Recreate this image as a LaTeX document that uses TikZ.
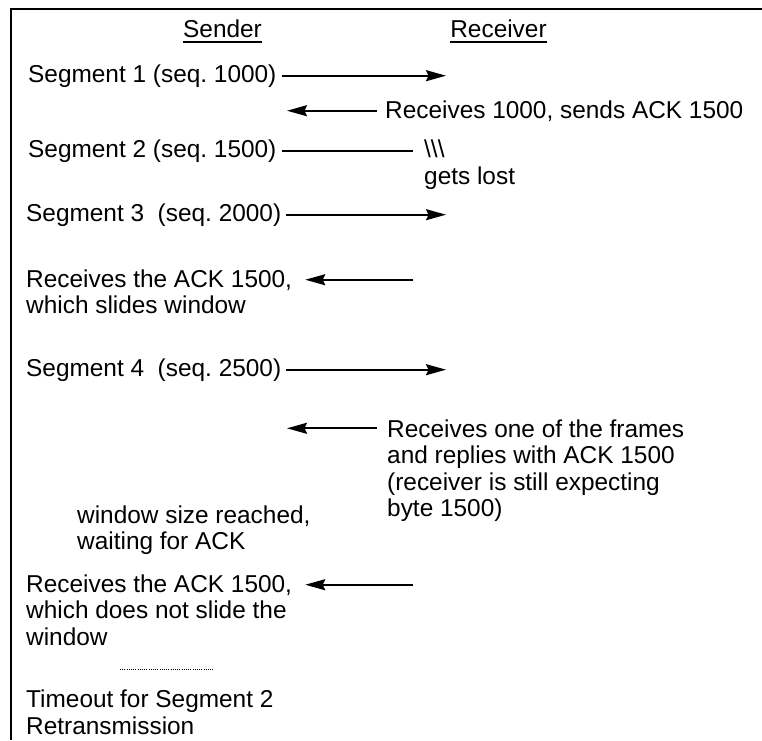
\documentclass[tikz,border=0pt]{standalone}
\usepackage{fontspec}
\setmainfont{Liberation Sans}
\usetikzlibrary{arrows.meta}
\frenchspacing
\begin{document}
\begin{tikzpicture}[x=1pt,y=-1pt,
  lbl/.style={anchor=base west,inner sep=0pt,font=\fontsize{24.4}{26.4}\selectfont\frenchspacing},
  head/.style={anchor=base,inner sep=0pt,font=\fontsize{24.4}{26.4}\selectfont},
  msg/.style={line width=1.8pt,-{Stealth[length=20pt,width=11pt,inset=2.5pt]}},
  plain/.style={line width=1.8pt},
  frame/.style={line width=1.8pt}]
\useasboundingbox (0,0) rectangle (762,740);
% frame
\draw[frame] (11,740) -- (11,9) -- (762,9);
% reference x positions for arrow ends
\coordinate (tipR) at (446,0);
\coordinate (tipL) at (287,0);
\coordinate (srcR) at (413,0);
% headers
\node[head] (snd) at (222.5,37) {Sender};
\node[head] (rcv) at (498.5,37) {Receiver};
\draw[plain] ([yshift=-5pt]snd.base west) -- ([yshift=-5pt]snd.base east);
\draw[plain] ([yshift=-5pt]rcv.base west) -- ([yshift=-5pt]rcv.base east);
% segment 1
\node[lbl] (seg1) at (28,82) {Segment 1 (seq. 1000)};
\draw[msg] ([xshift=5pt]seg1.east) -- (seg1.east -| tipR);
% ack 1
\node[lbl] (ack1) at (385,118) {Receives 1000, sends ACK 1500};
\draw[msg] ([xshift=-8pt]ack1.west) -- (ack1.west -| tipL);
% segment 2 (lost)
\node[lbl] (seg2) at (28,157) {Segment 2 (seq. 1500)};
\node[lbl] (bs) at (424,157) {\textbackslash\textbackslash\textbackslash};
\node[lbl] (lost) at (424,184) {gets lost};
\draw[plain] ([xshift=5pt]seg2.east) -- (seg2.east -| srcR);
% segment 3
\node[lbl] (seg3) at (26,221) {Segment 3\ \ (seq. 2000)};
\draw[msg] ([xshift=5pt]seg3.east) -- (seg3.east -| tipR);
% sender receives ack 1500 (slides)
\node[lbl] (rk1a) at (26,287) {Receives the ACK 1500,};
\node[lbl] (rk1b) at (26,313) {which slides window};
\draw[msg] (rk1a.east -| srcR) -- ([xshift=13pt]rk1a.east);
% segment 4
\node[lbl] (seg4) at (26,376) {Segment 4\ \ (seq. 2500)};
\draw[msg] ([xshift=5pt]seg4.east) -- (seg4.east -| tipR);
% ack 2
\node[lbl] (ack2a) at (387,437) {Receives one of the frames};
\node[lbl] (ack2b) at (387,463) {and replies with ACK 1500};
\node[lbl] (ack2c) at (387,490) {(receiver is still expecting};
\node[lbl] (ack2d) at (387,516) {byte 1500)};
\draw[msg] ([xshift=-10pt]ack2a.west) -- (ack2a.west -| tipL);
% window size
\node[lbl] (win1) at (77,523) {window size reached,};
\node[lbl] (win2) at (77,549) {waiting for ACK};
% sender receives ack 1500 (no slide)
\node[lbl] (rk2a) at (26,592) {Receives the ACK 1500,};
\node[lbl] (rk2b) at (26,618) {which does not slide the};
\node[lbl] (rk2c) at (26,645) {window};
\draw[msg] (rk2a.east -| srcR) -- ([xshift=13pt]rk2a.east);
% dotted separator
\coordinate (dotA) at (120,669);
\coordinate (dotB) at (213,669);
\draw[line width=0.9pt,dash pattern=on 1pt off 1.2pt] (dotA) -- (dotB);
% timeout
\node[lbl] (to1) at (26,707) {Timeout for Segment 2};
\node[lbl] (to2) at (26,734) {Retransmission};
\end{tikzpicture}
\end{document}
